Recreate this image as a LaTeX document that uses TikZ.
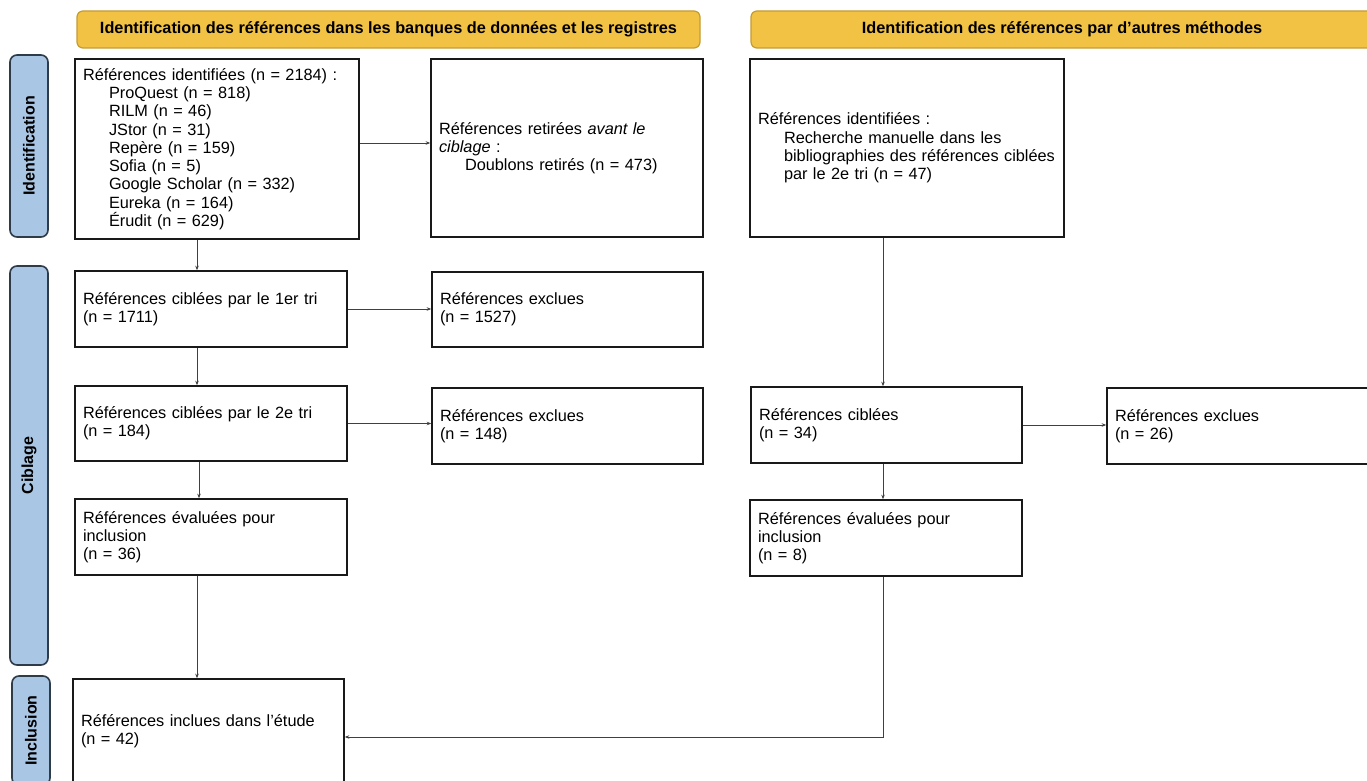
\documentclass[tikz,border=0pt]{standalone}
\usepackage{fontspec}
\setmainfont{Liberation Sans}
\usetikzlibrary{arrows.meta}
\definecolor{hdrfill}{HTML}{F2C244}
\definecolor{hdrline}{HTML}{C49B34}
\definecolor{barfill}{HTML}{A9C6E4}
\definecolor{barline}{HTML}{2E3B48}
\newcommand\bodyfnt{\fontsize{16.3}{18.25}\selectfont}
\newcommand\ind{\hspace*{26pt}}
\begin{document}
\begin{tikzpicture}[x=1pt,y=-1pt,
  hdr/.style={rounded corners=6pt, fill=hdrfill, draw=hdrline, line width=1.2pt,
    font=\bfseries\fontsize{16.3}{18}\selectfont, inner sep=0pt},
  sidebar/.style={rotate=90, rounded corners=7pt, fill=barfill, draw=barline, line width=1.6pt,
    font=\bfseries\fontsize{16}{18}\selectfont, inner sep=0pt},
  box/.style={draw=black!90, line width=1.6pt, fill=white, align=left,
    inner xsep=8pt, inner ysep=0pt, font=\bodyfnt},
  arr/.style={draw=black!75, line width=0.8pt, -{Stealth[length=4.5pt,width=3.5pt]}}]
\useasboundingbox (0,0) rectangle (1367,781);
\clip (0,0) rectangle (1367,781);

% headers
\node[hdr, minimum width=623pt, minimum height=37pt] (h1) at (388.5,29.5)
  {Identification des références dans les banques de données et les registres};
\node[hdr, minimum width=622pt, minimum height=37pt] (h2) at (1062,29.5)
  {Identification des références par d’autres méthodes};

% side bars
\node[sidebar, minimum width=182pt, minimum height=38pt] (s1) at (29,146) {Identification};
\node[sidebar, minimum width=399pt, minimum height=38pt] (s2) at (29,465.5) {Ciblage};
\node[sidebar, minimum width=109pt, minimum height=38pt] (s3) at (31,730.5) {Inclusion};

% left column
\node[box, text width=268pt, minimum height=180pt] (A) at (217,149)
  {Références identifiées (n = 2184) :\\
   \ind ProQuest (n = 818)\\
   \ind RILM (n = 46)\\
   \ind JStor (n = 31)\\
   \ind Repère (n = 159)\\
   \ind Sofia (n = 5)\\
   \ind Google Scholar (n = 332)\\
   \ind Eureka (n = 164)\\
   \ind Érudit (n = 629)};
\node[box, text width=256pt, minimum height=178pt] (B) at (567,148)
  {Références retirées \textit{avant le}\\
   \textit{ciblage} :\\
   \ind Doublons retirés (n = 473)};
\node[box, text width=256pt, minimum height=76pt] (C) at (211,309)
  {Références ciblées par le 1er tri\\(n = 1711)};
\node[box, text width=255pt, minimum height=75pt] (D) at (567.5,309.5)
  {Références exclues\\(n = 1527)};
\node[box, text width=256pt, minimum height=75pt] (E) at (211,423.5)
  {Références ciblées par le 2e tri\\(n = 184)};
\node[box, text width=255pt, minimum height=76pt] (F) at (567.5,426)
  {Références exclues\\(n = 148)};
\node[box, text width=256pt, minimum height=76pt] (G) at (211,537)
  {Références évaluées pour\\inclusion\\(n = 36)};
\node[box, text width=255pt, minimum height=104pt] (H) at (208.5,731)
  {Références inclues dans l’étude\\(n = 42)};

% right column
\node[box, text width=298pt, minimum height=178pt] (I) at (907,148)
  {Références identifiées :\\
   \ind Recherche manuelle dans les\\
   \ind bibliographies des références ciblées\\
   \ind par le 2e tri (n = 47)};
\node[box, text width=255pt, minimum height=76pt] (J) at (886.5,425)
  {Références ciblées\\(n = 34)};
\node[box, text width=255pt, minimum height=76pt] (K) at (1242.5,426)
  {Références exclues\\(n = 26)};
\node[box, text width=256pt, minimum height=76pt] (L) at (886,538)
  {Références évaluées pour\\inclusion\\(n = 8)};

% connectors
\draw[arr] ([xshift=-20pt]A.south) -- ([xshift=-20pt]A.south |- C.north);
\draw[arr] ([yshift=6pt]A.east) -- ([yshift=6pt]A.east -| B.west);
\draw[arr] (C.east) -- (C.east -| D.west);
\draw[arr] ([xshift=-14pt]C.south) -- ([xshift=-14pt]C.south |- E.north);
\draw[arr] (E.east) -- (E.east -| F.west);
\draw[arr] ([xshift=-12pt]E.south) -- ([xshift=-12pt]E.south |- G.north);
\draw[arr] ([xshift=-14pt]G.south) -- ([xshift=-14pt]G.south |- H.north);
\draw[arr] ([xshift=-24pt]I.south) -- ([xshift=-24pt]I.south |- J.north);
\draw[arr] (J.east) -- (J.east -| K.west);
\draw[arr] ([xshift=-3.5pt]J.south) -- ([xshift=-3.5pt]J.south |- L.north);
\draw[arr] ([xshift=-3pt]L.south) |- ([yshift=-6pt]H.east);
\end{tikzpicture}
\end{document}
